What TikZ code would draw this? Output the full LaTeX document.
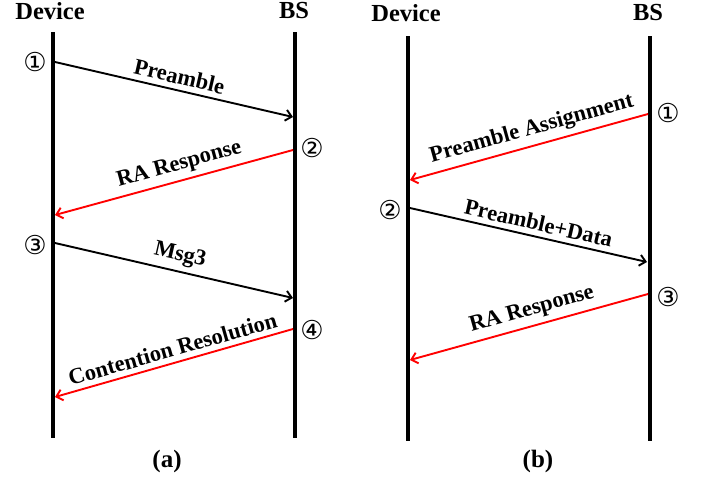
\documentclass[tikz,border=0pt]{standalone}
\usepackage{fontspec}
\setmainfont{Liberation Serif}
\newfontfamily\symf{DejaVu Sans}
\usetikzlibrary{arrows.meta}
\tikzset{
  life/.style={line width=4pt},
  msg/.style={line width=1.9pt,-{Straight Barb[length=6pt,width=11pt,line width=1.9pt]}},
  msgred/.style={msg,red},
  head/.style={font=\fontsize{24.5}{28}\selectfont\bfseries,inner sep=0pt},
  lbl/.style={font=\fontsize{22.5}{26}\selectfont\bfseries,inner sep=5pt,text=black,sloped,above},
  num/.style={font=\symf\fontsize{26}{30}\selectfont,inner sep=0pt},
  subcap/.style={font=\fontsize{25}{28}\selectfont\bfseries,inner sep=0pt}
}
\begin{document}
\begin{tikzpicture}[x=1pt,y=-1pt]
\useasboundingbox (0,0) rectangle (702,480);
% ---------- panel (a)
\node[head] (devA) at (50,11) {Device};
\node[head] (bsA) at (294,11) {BS};
\coordinate (dAt) at (53,32); \coordinate (dAb) at (53,438);
\coordinate (bAt) at (295,32); \coordinate (bAb) at (295,438);
\draw[life] (dAt) -- (dAb);
\draw[life] (bAt) -- (bAb);
\coordinate (a1s) at (55,62);  \coordinate (a1e) at (293,117);
\coordinate (a2s) at (293,150); \coordinate (a2e) at (55,215);
\coordinate (a3s) at (55,243); \coordinate (a3e) at (293,298);
\coordinate (a4s) at (293,329); \coordinate (a4e) at (55,397);
\draw[msg] (a1s) -- node[lbl,pos=0.51] (la1) {Preamble} (a1e);
\draw[msgred] (a2s) -- node[lbl,pos=0.46] (la2) {RA Response} (a2e);
\draw[msg] (a3s) -- node[lbl,pos=0.51] (la3) {Msg3} (a3e);
\draw[msgred] (a4s) -- node[lbl,pos=0.49] (la4) {Contention Resolution} (a4e);
\node[num] (na1) at (35,62) {①};
\node[num] (na2) at (312,148) {②};
\node[num] (na3) at (35,245) {③};
\node[num] (na4) at (312,330) {④};
\node[subcap] (capA) at (167,461) {(a)};
% ---------- panel (b)
\node[head] (devB) at (406,13) {Device};
\node[head] (bsB) at (648,13) {BS};
\coordinate (dBt) at (408,36); \coordinate (dBb) at (408,441);
\coordinate (bBt) at (650,36); \coordinate (bBb) at (650,441);
\draw[life] (dBt) -- (dBb);
\draw[life] (bBt) -- (bBb);
\coordinate (b1s) at (648,114); \coordinate (b1e) at (410,180);
\coordinate (b2s) at (410,208); \coordinate (b2e) at (647,262);
\coordinate (b3s) at (648,294); \coordinate (b3e) at (410,360);
\draw[msgred] (b1s) -- node[lbl,pos=0.47] (lb1) {Preamble Assignment} (b1e);
\draw[msg] (b2s) -- node[lbl,pos=0.53] (lb2) {Preamble+Data} (b2e);
\draw[msgred] (b3s) -- node[lbl,pos=0.47] (lb3) {RA Response} (b3e);
\node[num] (nb1) at (668,113) {①};
\node[num] (nb2) at (390,210) {②};
\node[num] (nb3) at (668,297) {③};
\node[subcap] (capB) at (538,461) {(b)};
\end{tikzpicture}
\end{document}
